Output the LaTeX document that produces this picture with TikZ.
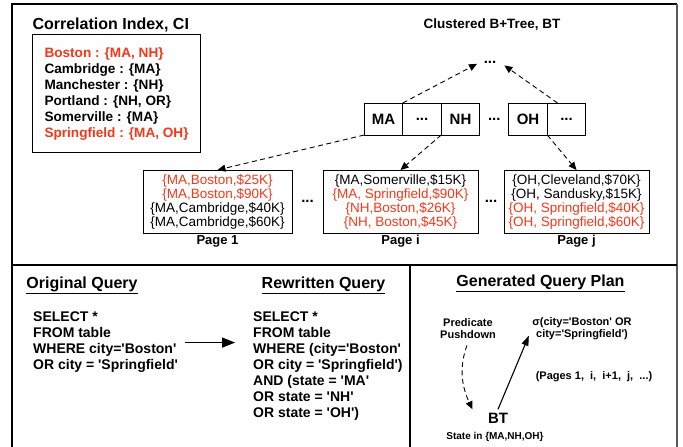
\documentclass[tikz,border=0pt]{standalone}
\usepackage{fontspec}
\setmainfont{Liberation Sans}[Ligatures=TeXOff]
\usetikzlibrary{positioning, arrows.meta}
\definecolor{hitred}{RGB}{245,55,25}
\newcommand{\hit}[1]{\textcolor{hitred}{#1}}

\begin{document}
\begin{tikzpicture}[
    x=1pt, y=-1pt,
    frame/.style={line width=1.2pt},
    heading/.style={font=\bfseries\fontsize{16}{16}\selectfont},
    cell/.style={draw, line width=1pt, minimum width=38.5pt, minimum height=32pt,
        inner sep=0pt, outer sep=0pt, font=\bfseries\fontsize{15}{15}\selectfont},
    gap/.style={minimum height=32pt, inner sep=0pt, outer sep=0pt,
        font=\bfseries\fontsize{15}{15}\selectfont},
    page/.style={draw, line width=1pt, minimum height=63pt, inner sep=2pt,
        outer sep=0pt, align=center, font=\fontsize{13.5}{14}\selectfont},
    pagename/.style={below=1pt of #1, inner sep=1pt,
        font=\bfseries\fontsize{13}{13}\selectfont},
    ptr/.style={dashed, dash pattern=on 5pt off 3.5pt, line width=0.9pt,
        -{Triangle[length=8pt,width=7pt]}},
    sql/.style={anchor=north west, inner sep=0pt, align=left,
        font=\bfseries\fontsize{14}{16}\selectfont},
    plan/.style={align=center, font=\bfseries\fontsize{11}{12}\selectfont}
]
    \useasboundingbox (0,0) rectangle (683,447);

    % frame and dividers
    \draw[frame] (12,447) -- (12,4) -- (677,4);
    \draw[frame, black!65, line width=1.8pt] (677,4) -- (677,447);
    \draw[frame] (12,265) -- (677,265);
    \draw[frame] (410,265) -- (410,447);

    % correlation index
    \node[heading, anchor=west] (cititle) at (29,25) {Correlation Index, CI};
    \node[
        draw,
        line width=1.1pt,
        anchor=north west,
        minimum width=168pt,
        minimum height=118pt,
        align=left,   % lines stay flush left, block sits in the box middle
        font=\bfseries\fontsize{13.6}{16}\selectfont
    ] (ci) at (32,34) {
        \hit{Boston : \{MA, NH\}}\\
        Cambridge : \{MA\}\\
        Manchester : \{NH\}\\
        Portland : \{NH, OR\}\\
        Somerville : \{MA\}\\
        \hit{Springfield : \{MA, OH\}}
    };

    % clustered b+tree
    \node[font=\bfseries\fontsize{13.5}{13.5}\selectfont] (bttitle) at (492,25) {Clustered B+Tree, BT};
    \node[font=\bfseries\fontsize{15}{15}\selectfont, inner sep=3pt] (root) at (490,62) {...};
    \node[cell] (ma) at (383.5,119) {MA};
    \node[cell, right=0pt of ma] (mad) {...};
    \node[cell, right=0pt of mad] (nh) {NH};
    \node[gap, minimum width=29pt, right=0pt of nh] (mid) {...};
    \node[cell, right=0pt of mid] (oh) {OH};
    \node[cell, right=0pt of oh] (ohd) {...};

    % leaf pages
    \node[page, minimum width=149pt] (page1) at (217.5,201.5) {
        \hit{\{MA,Boston,\$25K\}}\\
        \hit{\{MA,Boston,\$90K\}}\\
        \{MA,Cambridge,\$40K\}\\
        \{MA,Cambridge,\$60K\}
    };
    \node[gap, minimum width=31pt, right=0pt of page1] (pgap1) {...};
    \node[page, minimum width=155pt, right=0pt of pgap1] (pagei) {
        \{MA,Somerville,\$15K\}\\
        \hit{\{MA, Springfield,\$90K\}}\\
        \hit{\{NH,Boston,\$26K\}}\\
        \hit{\{NH, Boston,\$45K\}}
    };
    \node[gap, minimum width=26pt, right=0pt of pagei] (pgap2) {...};
    \node[page, minimum width=145pt, right=0pt of pgap2] (pagej) {
        \{OH,Cleveland,\$70K\}\\
        \{OH, Sandusky,\$15K\}\\
        \hit{\{OH, Springfield,\$40K\}}\\
        \hit{\{OH, Springfield,\$60K\}}
    };
    \node[pagename=page1] (p1name) {Page 1};
    \node[pagename=pagei] (piname) {Page i};
    \node[pagename=pagej] (pjname) {Page j};

    \draw[ptr, shorten >=4pt] (ma.north east) -- (root.west);
    \draw[ptr, shorten >=6pt] ([xshift=-9pt]ohd.north) -- (root.east);
    \draw[ptr] (ma.south west) -- (page1.north);
    \draw[ptr] (nh.south west) -- (pagei.north);
    \draw[ptr] (ohd.south west) -- (pagej.north);

    % queries
    \node[heading] (origtitle) at (82,285) {\underline{Original Query}};
    \node[heading] (rewtitle) at (323.5,285) {\underline{Rewritten Query}};
    \node[sql] (orig) at (33,312) {
        SELECT *\\
        FROM table\\
        WHERE city='Boston'\\
        OR city = 'Springfield'
    };
    \node[sql] (rew) at (253,312) {
        SELECT *\\
        FROM table\\
        WHERE (city='Boston'\\
        OR city = 'Springfield')\\
        AND (state = 'MA'\\
        OR state = 'NH'\\
        OR state = 'OH')
    };
    \draw[line width=1.3pt, -{Triangle[length=13pt,width=10pt]},
        shorten <=7pt, shorten >=18pt] (orig.east) -- (orig.east -| rew.west);

    % generated plan
    \node[heading] (plantitle) at (540.5,283) {\underline{Generated Query Plan}};
    \node[plan] (push) at (468,329) {Predicate\\Pushdown};
    \node[plan] (sigma) at (582,329) {σ(city='Boston' OR\\city='Springfield')};
    \node[plan] (pages) at (594,377) {(Pages 1,\ \ i,\ \ i+1,\ \ j,\ \ ...)};
    \node[font=\bfseries\fontsize{15}{15}\selectfont] (bt) at (498,418) {BT};
    \node[font=\bfseries\fontsize{10}{10}\selectfont] (state) at (495,437) {State in \{MA,NH,OH\}};

    \draw[ptr, shorten <=3pt] (push.south) to[out=250, in=115] ([xshift=-12pt]bt.north west);
    \draw[line width=1.1pt, -{Triangle[length=10pt,width=7pt]}]
        (bt.north) -- ([yshift=8pt]sigma.south west);
\end{tikzpicture}
\end{document}
